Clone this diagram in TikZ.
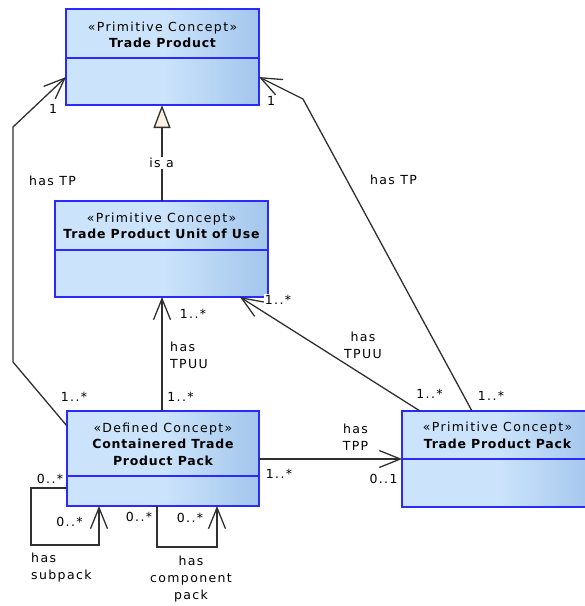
\documentclass[tikz,border=0pt]{standalone}
\usepackage{fontspec}
\setmainfont{DejaVu Sans}[LetterSpace=11]
\newfontfamily\namefont{DejaVu Sans}[LetterSpace=6]
\usetikzlibrary{arrows.meta,calc}

\definecolor{boxL}{HTML}{CCE4FB}
\definecolor{boxR}{HTML}{A3C6EC}
\definecolor{boxEdge}{HTML}{2A2AFF}
\definecolor{wire}{HTML}{303030}
\definecolor{triFill}{HTML}{FBF1E4}

\newcommand{\stereo}[1]{«#1»}
\newcommand{\cname}[1]{{\namefont\bfseries #1}}

\tikzset{
  classbox/.style={draw=boxEdge, line width=1.4pt, left color=boxL,
    right color=boxR, middle color=boxL, inner sep=0pt, outer sep=0pt},
  divider/.style={draw=boxEdge, line width=1.4pt},
  ctitle/.style={align=center, inner sep=0pt,
    font=\fontsize{12.5}{16.5}\selectfont},
  lbl/.style={inner sep=1pt, font=\fontsize{12.5}{17}\selectfont},
  wlbl/.style={lbl, fill=white},
  assoc/.style={draw=wire, line width=1.3pt,
    -{Straight Barb[length=21pt, width=17pt, line width=1.3pt]}},
  gen/.style={draw=wire, line width=1.3pt,
    -{Triangle[length=23pt, width=17pt, line width=1.3pt, fill=triFill]}},
}

\begin{document}
\begin{tikzpicture}[x=1pt, y=-1pt]
  \useasboundingbox (0,0) rectangle (585,606);
  \fill[white] (0,0) rectangle (585,606);
  \clip (0,0) rectangle (585,606);

  % class boxes
  \node[classbox, minimum width=193pt, minimum height=96pt] (tp) at (162.5,57) {};
  \node[classbox, minimum width=213pt, minimum height=96pt] (tpuu) at (161.5,249) {};
  \node[classbox, minimum width=192pt, minimum height=95pt] (ctpp) at (163,458.5) {};
  \node[classbox, minimum width=191pt, minimum height=96pt] (tpp) at (497.5,459) {};

  % compartment dividers
  \draw[divider] ($(tp.north west)!0.51!(tp.south west)$) -- ($(tp.north east)!0.51!(tp.south east)$);
  \draw[divider] ($(tpuu.north west)!0.51!(tpuu.south west)$) -- ($(tpuu.north east)!0.51!(tpuu.south east)$);
  \draw[divider] ($(ctpp.north west)!0.684!(ctpp.south west)$) -- ($(ctpp.north east)!0.684!(ctpp.south east)$);
  \draw[divider] ($(tpp.north west)!0.5!(tpp.south west)$) -- ($(tpp.north east)!0.5!(tpp.south east)$);

  % class titles
  \node[ctitle] (tp-t) at (162.5,35) {\stereo{Primitive Concept}\\\cname{Trade Product}};
  \node[ctitle] (tpuu-t) at (161.5,226) {\stereo{Primitive Concept}\\\cname{Trade Product Unit of Use}};
  \node[ctitle] (ctpp-t) at (163,444) {\stereo{Defined Concept}\\\cname{Containered Trade}\\\cname{Product Pack}};
  \node[ctitle] (tpp-t) at (497.5,435.5) {\stereo{Primitive Concept}\\\cname{Trade Product Pack}};

  % generalisation
  \draw[gen] (tpuu.north -| 162,0) -- (tp.south -| 162,0);
  \node[wlbl] (isa) at (161.5,163) {is a};

  % associations
  \draw[assoc] (ctpp.west |- 0,426) -- (13,362) -- (13,127) -- (tp.west |- 0,77);
  \draw[assoc] (tpp.north -| 472,0) -- (303,99) -- (tp.east |- 0,77);
  \draw[assoc] (ctpp.north -| 162,0) -- (tpuu.south -| 162,0);
  \draw[assoc] (tpp.north -| 420,0) -- (tpuu.south -| 240,0);
  \draw[assoc] (ctpp.east |- tpp.west) -- (tpp.west);
  \draw[assoc] (ctpp.west |- 0,488) -- (31,488) -- (31,545) -- (99,545) -- (ctpp.south -| 99,0);
  \draw[assoc] (ctpp.south -| 157,0) -- (157,547) -- (217,547) -- (ctpp.south -| 217,0);

  % association names
  \node[lbl] (l-hastp1) at (52.5,181) {has TP};
  \node[lbl] (l-hastp2) at (393.5,180) {has TP};
  \node[lbl, align=left, anchor=west] (l-hastpuu1) at (169,355.5) {has\\TPUU};
  \node[lbl, align=center] (l-hastpuu2) at (363,345) {has\\TPUU};
  \node[lbl, align=center] (l-hastpp) at (355.5,437.5) {has\\TPP};
  \node[lbl, align=left, anchor=west] (l-subpack) at (30,567.5) {has\\subpack};
  \node[lbl, align=center] (l-comp) at (191,579) {has\\component\\pack};

  % multiplicities
  \node[lbl] (m1) at (53,109) {1};
  \node[lbl] (m2) at (271,101) {1};
  \node[lbl] (m3) at (193,314) {1..*};
  \node[wlbl] (m4) at (278,300) {1..*};
  \node[lbl] (m5) at (74,397) {1..*};
  \node[lbl] (m6) at (180.5,397) {1..*};
  \node[lbl] (m7) at (429.5,394) {1..*};
  \node[lbl] (m8) at (491,396) {1..*};
  \node[lbl] (m9) at (279,474) {1..*};
  \node[lbl] (m10) at (383.5,479) {0..1};
  \node[wlbl] (m11) at (50,479) {0..*};
  \node[lbl] (m12) at (69.5,522) {0..*};
  \node[lbl] (m13) at (139,517) {0..*};
  \node[lbl] (m14) at (190,518) {0..*};
\end{tikzpicture}
\end{document}
